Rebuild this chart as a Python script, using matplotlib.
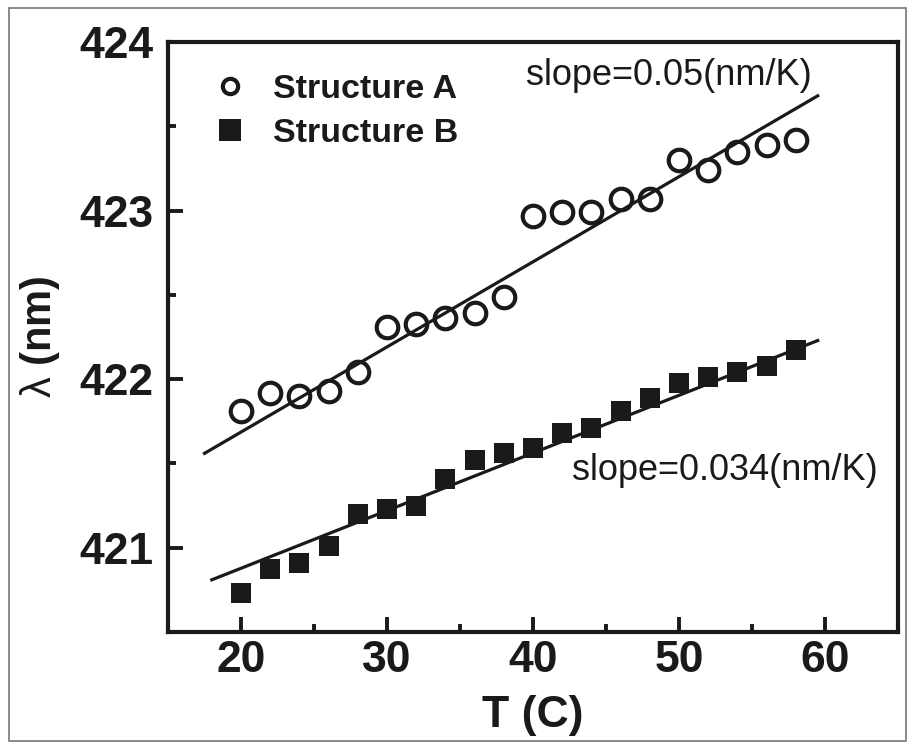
import numpy as np
import matplotlib
matplotlib.use("Agg")
import matplotlib.pyplot as plt
from matplotlib.patches import Rectangle
from matplotlib.ticker import MultipleLocator

plt.rcParams["mathtext.fontset"] = "custom"
plt.rcParams["mathtext.rm"] = "Liberation Sans"
plt.rcParams["mathtext.it"] = "Liberation Sans:italic"
plt.rcParams["mathtext.bf"] = "Liberation Sans:bold"

# ---- data ----
T = [20, 22, 24, 26, 28, 30, 32, 34, 36, 38, 40, 42, 44, 46, 48, 50, 52, 54, 56, 58]
lam_A = [421.81, 421.92, 421.90, 421.93, 422.04, 422.31, 422.33, 422.36, 422.39, 422.49,
         422.97, 422.99, 422.99, 423.07, 423.07, 423.30, 423.24, 423.35, 423.39, 423.42]
lam_B = [420.73, 420.875, 420.91, 421.01, 421.20, 421.23, 421.25, 421.41, 421.52, 421.56,
         421.59, 421.68, 421.71, 421.81, 421.89, 421.98, 422.01, 422.04, 422.08, 422.17]
fit_A = (0.0505, 420.676)   # slope, intercept
fit_B = (0.0342, 420.194)
fit_A_range = [17.5, 59.5]
fit_B_range = [18.0, 59.5]
labels = ["Structure A", "Structure B"]
slope_texts = ["slope=0.05(nm/K)", "slope=0.034(nm/K)"]

W, H = 915, 749
fig = plt.figure(figsize=(W / 100, H / 100), dpi=100)
ax = fig.add_axes([168 / W, 1 - 632 / H, (898 - 168) / W, (632 - 42) / H])

# outer frame
fig.patches.append(Rectangle((9 / W, 8 / H), (906 - 9) / W, (741 - 8) / H,
                             transform=fig.transFigure, fill=False,
                             edgecolor="#777777", linewidth=1.2))

ink = "#1a1a1a"
FONT = ["Liberation Sans", "DejaVu Sans"]

ax.plot(T, lam_A, linestyle="none", marker="o", markersize=15.5, markerfacecolor="none",
        markeredgecolor=ink, markeredgewidth=3.0, label=labels[0], zorder=3)
ax.plot(T, lam_B, linestyle="none", marker="s", markersize=15, markerfacecolor=ink,
        markeredgecolor=ink, markeredgewidth=0, label=labels[1], zorder=3)

xa = np.array(fit_A_range)
ax.plot(xa, fit_A[0] * xa + fit_A[1], color=ink, linewidth=2.3, zorder=2)
xb = np.array(fit_B_range)
ax.plot(xb, fit_B[0] * xb + fit_B[1], color=ink, linewidth=2.3, zorder=2)

ax.set_xlim(15, 65)
ax.set_ylim(420.5, 424)
ax.xaxis.set_major_locator(MultipleLocator(10))
ax.xaxis.set_minor_locator(MultipleLocator(5))
ax.yaxis.set_major_locator(MultipleLocator(1))
ax.yaxis.set_minor_locator(MultipleLocator(0.5))

for s in ax.spines.values():
    s.set_linewidth(3)
    s.set_color(ink)
ax.tick_params(which="major", direction="in", length=11, width=2.8, color=ink,
               top=False, right=False)
ax.tick_params(which="minor", direction="in", length=6, width=2.8, color=ink,
               top=False, right=False)
ax.tick_params(axis="x", pad=5.5)
ax.tick_params(axis="y", pad=10.5)

for lab in ax.get_xticklabels() + ax.get_yticklabels():
    lab.set_fontfamily(FONT)
    lab.set_fontweight("bold")
    lab.set_fontsize(32)
    lab.set_color(ink)

ax.set_xlabel("T (C)", fontsize=32, fontweight="bold", family=FONT, labelpad=10, color=ink)
ax.set_ylabel(r"$\mathrm{\lambda}$ (nm)", fontsize=30, fontweight="bold", family=FONT,
              color=ink, va="center")
ax.yaxis.set_label_coords(-0.175, 0.5)

leg = ax.legend(loc="upper left", bbox_to_anchor=(0.0, 1.022), frameon=False,
                handletextpad=0.77, borderaxespad=0.92, borderpad=0.4,
                labelspacing=0.38, handlelength=1.0,
                prop={"family": FONT, "weight": "bold", "size": 24.5})
for t in leg.get_texts():
    t.set_color(ink)
leg.legend_handles[0].set_markersize(11)
leg.legend_handles[1].set_markersize(16)

ax.text(39.5, 423.80, slope_texts[0], fontsize=26, family=FONT, va="center",
        ha="left", color=ink)
ax.text(42.7, 421.46, slope_texts[1], fontsize=26, family=FONT, va="center",
        ha="left", color=ink)

fig.savefig("out.png", dpi=100)
